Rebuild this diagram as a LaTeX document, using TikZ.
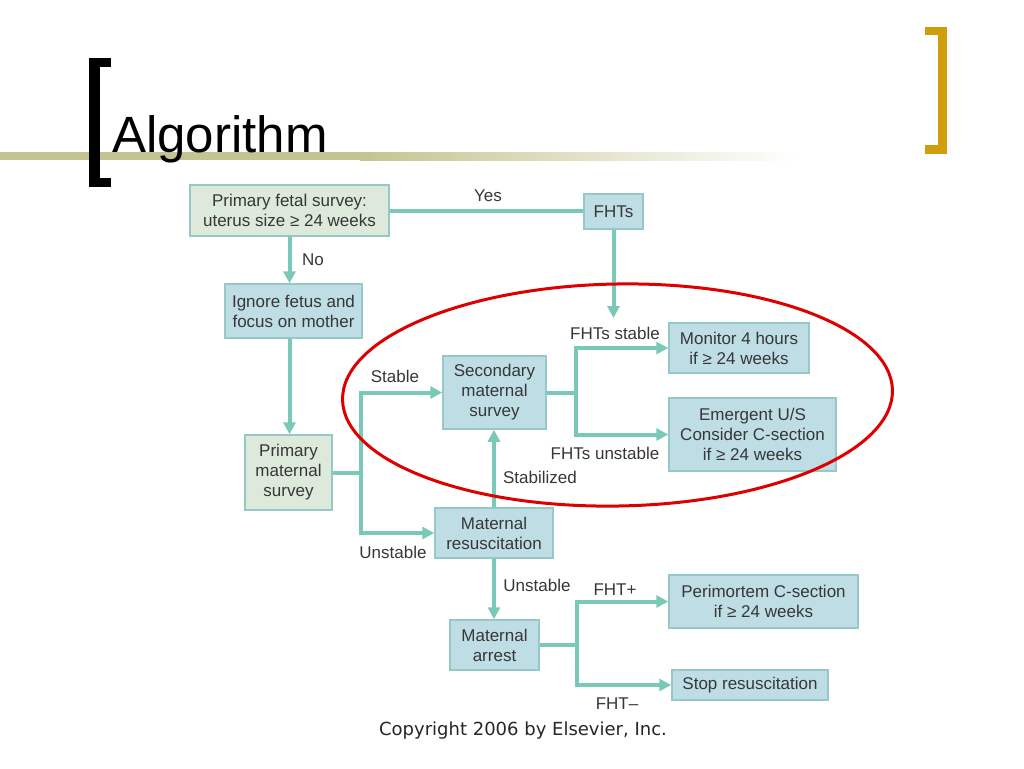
\documentclass[tikz,border=0pt]{standalone}
\usepackage{fontspec}
\setmainfont{Liberation Sans}
\newfontfamily\copyfont{DejaVu Sans}
\usetikzlibrary{arrows.meta,calc}
\definecolor{boxblue}{RGB}{190,221,229}
\definecolor{boxgreen}{RGB}{221,233,219}
\definecolor{boxedge}{RGB}{150,200,200}
\definecolor{conncol}{RGB}{122,200,184}
\definecolor{txt}{RGB}{55,55,55}
\definecolor{olivebar}{RGB}{196,196,146}
\definecolor{goldbr}{RGB}{208,158,12}
\definecolor{ovalred}{RGB}{222,0,0}
\begin{document}
\begin{tikzpicture}[x=1pt,y=-1pt,
  box/.style={draw=boxedge, line width=1.5pt, fill=boxblue, text=txt, align=center, inner sep=0pt, font=\fontsize{17}{20}\selectfont},
  gbox/.style={box, fill=boxgreen},
  lbl/.style={text=txt, inner sep=0pt, font=\fontsize{17}{20}\selectfont},
  link/.style={draw=conncol, line width=4pt},
  arr/.style={link, -{Triangle[width=12pt,length=12pt]}},
]
\fill[white] (0,0) rectangle (1024,768);
\useasboundingbox (0,0) rectangle (1024,768);

% title bar
\fill[olivebar] (0,152) rectangle (360,160);
\shade[left color=olivebar, right color=white] (360,152) rectangle (800,160);
\fill[black] (89,58) rectangle (111,67);
\fill[black] (89,58) rectangle (100,187);
\fill[black] (89,178) rectangle (111,187);
\fill[goldbr] (925,27) rectangle (947,35);
\fill[goldbr] (938,27) rectangle (947,154);
\fill[goldbr] (925,145) rectangle (947,154);
\node[anchor=base west, inner sep=0pt, font=\fontsize{51}{51}\selectfont] (title) at (112,152) {Algorithm};

% boxes
\node[gbox, minimum width=199pt, minimum height=51pt] (pfs) at (289.5,210.5) {Primary fetal survey:\\uterus size ≥ 24 weeks};
\node[box, minimum width=59pt, minimum height=35pt] (fhts) at (613.5,211.5) {FHTs};
\node[box, minimum width=137pt, minimum height=54pt] (ign) at (293.5,311) {Ignore fetus and\\focus on mother};
\node[gbox, minimum width=87pt, minimum height=75pt] (pms) at (288.5,472.5) {Primary\\maternal\\survey};
\node[box, minimum width=103pt, minimum height=73pt] (sms) at (494.5,392.5) {Secondary\\maternal\\survey};
\node[box, minimum width=118pt, minimum height=50pt] (mr) at (494,533) {Maternal\\resuscitation};
\node[box, minimum width=140pt, minimum height=50pt] (mon) at (739,348) {Monitor 4 hours\\if ≥ 24 weeks};
\node[box, minimum width=167pt, minimum height=73pt] (emg) at (752.5,434.5) {Emergent U/S\\Consider C-section\\if ≥ 24 weeks};
\node[box, minimum width=89pt, minimum height=50pt] (ma) at (494.5,645) {Maternal\\arrest};
\node[box, minimum width=189pt, minimum height=53pt] (pcs) at (763.5,601.5) {Perimortem C-section\\if ≥ 24 weeks};
\node[box, minimum width=156pt, minimum height=30pt] (stop) at (750,685) {Stop resuscitation};
\coordinate (fhtend) at (613.5,318);

% connectors
\draw[link] (pfs.east) -- (pfs.east -| fhts.west);
\draw[arr] (pfs.south) -- (pfs.south |- ign.north);
\draw[arr] (ign.south -| pfs.south) -- (pfs.south |- pms.north);
\draw[arr] (fhts.south) -- (fhtend);
\draw[arr] (pms.east) -- ++(28,0) |- (sms.west);
\draw[arr] (pms.east) -- ++(28,0) |- (mr.west);
\draw[arr] (mr.north) -- (mr.north |- sms.south);
\draw[arr] (sms.east) -- ++(29,0) |- (mon.west);
\draw[arr] (sms.east) -- ++(29,0) |- (emg.west);
\draw[arr] (mr.south) -- (mr.south |- ma.north);
\draw[arr] (ma.east) -- ++(37,0) |- (pcs.west);
\draw[arr] (ma.east) -- ++(37,0) |- (stop.west);

% labels
\node[lbl] (lyes) at (488,196) {Yes};
\node[lbl] (lno) at (313,260) {No};
\node[lbl] (lstable) at (395,376) {Stable};
\node[lbl] (lunst1) at (393,552) {Unstable};
\node[lbl] (lstabz) at (540,477) {Stabilized};
\node[lbl] (lfs) at (615,333) {FHTs stable};
\node[lbl] (lfu) at (605,453) {FHTs unstable};
\node[lbl] (lunst2) at (537,585) {Unstable};
\node[lbl] (lfp) at (615,590) {FHT+};
\node[lbl] (lfm) at (617,704) {FHT–};

% red oval
\draw[ovalred, line width=3pt, rotate around={1:(617.5,395)}] (617.5,395) ellipse [x radius=275pt, y radius=111pt];

% copyright
\node[font=\copyfont\fontsize{18}{20}\selectfont, text=black!85, inner sep=0pt] (copy) at (523,731) {Copyright 2006 by Elsevier, Inc.};
\end{tikzpicture}
\end{document}
